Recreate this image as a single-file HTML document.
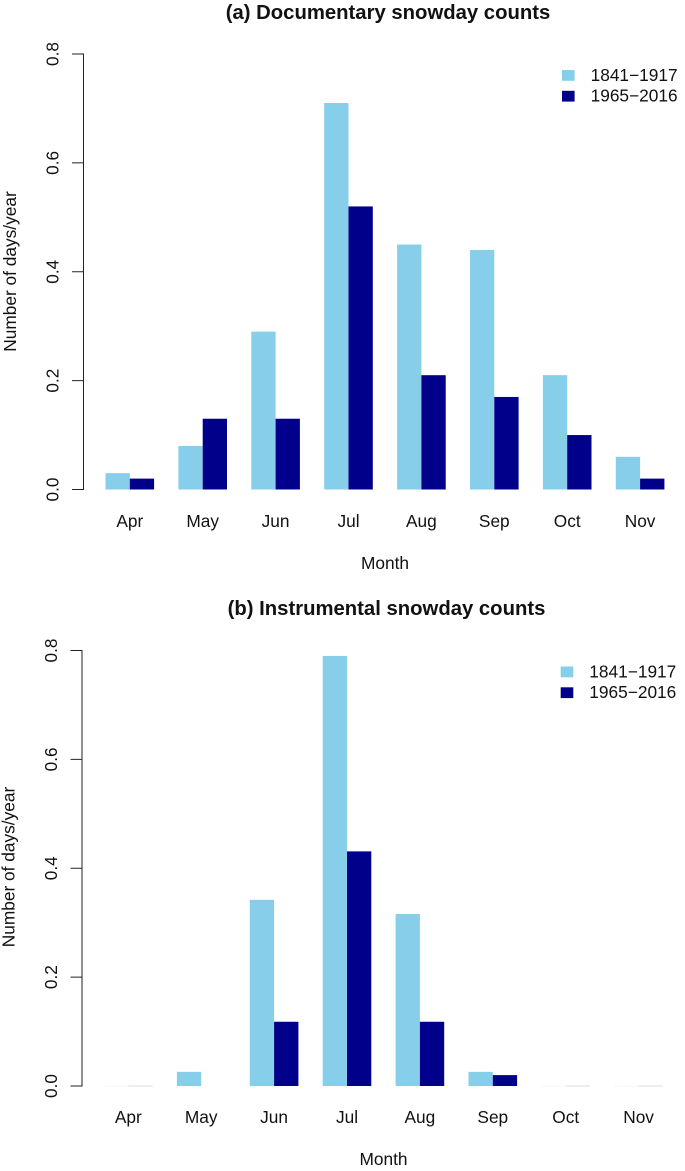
<!DOCTYPE html>
<html>
<head>
<meta charset="utf-8">
<style>
html,body{margin:0;padding:0;background:#fff;}
svg{display:block;}
text{font-family:"Liberation Sans",sans-serif;fill:#111;}
</style>
</head>
<body>
<svg id="chart" xmlns="http://www.w3.org/2000/svg" width="685" height="1171" viewBox="0 0 685 1171"></svg>
<script>
const months = ['Apr','May','Jun','Jul','Aug','Sep','Oct','Nov'];
const yTicks = [0, 0.2, 0.4, 0.6, 0.8];
const seriesNames = ['1841\u22121917','1965\u22122016'];
const docEarly = [0.03,0.08,0.29,0.71,0.45,0.44,0.21,0.06];
const docLate = [0.02,0.13,0.13,0.52,0.21,0.17,0.10,0.02];
const insEarly = [0,0.026,0.342,0.79,0.316,0.026,0,0];
const insLate = [0,0,0.118,0.431,0.118,0.02,0,0];
const colors = ['#87CEEB','#00008B'];

const svg = document.getElementById('chart');
const NS = 'http://www.w3.org/2000/svg';
function mk(tag, attrs, parent, txt){
  const e = document.createElementNS(NS, tag);
  for(const k in attrs) e.setAttribute(k, attrs[k]);
  if(txt !== undefined) e.textContent = txt;
  parent.appendChild(e);
  return e;
}
function panel(o){
  const g = mk('g', {}, svg);
  
  
  const y = v => o.y0 - v * (o.y0 - o.y8) / 0.8;
  const bw = 24.3;
  const groupX = i => o.x0 + i * 3 * bw;

  const title = mk('text', {x:o.titleX, y:o.titleY, 'text-anchor':'middle', 'font-size':'20.3', 'font-weight':'bold'}, g, o.title);
  
  

  const axis = mk('line', {x1:o.ax, x2:o.ax, y1:y(0.8), y2:y(0), stroke:'#222', 'stroke-width':'1'}, g);
  
  

  yTicks.forEach(t => {
    const tick = mk('line', {x1:o.ax - 11.5, x2:o.ax + 0.5, y1:y(t), y2:y(t), stroke:'#222', 'stroke-width':'1'}, g);
    
    
    const lx = o.ax - 25;
    const lab = mk('text', {x:lx, y:y(t), 'text-anchor':'middle', 'font-size':'17.2', transform:'rotate(-90 ' + lx + ' ' + y(t) + ')'}, g, t.toFixed(1));
    
    
  });

  const yt = mk('text', {x:o.ytX, y:o.ytY, 'text-anchor':'middle', 'font-size':'17.3', transform:'rotate(-90 ' + o.ytX + ' ' + o.ytY + ')'}, g, 'Number of days/year');
  
  

  months.forEach((m, i) => {
    [o.early, o.late].forEach((vals, s) => {
      const v = vals[i];
      const bx = groupX(i) + s * bw;
      if(v > 0){
        const r = mk('rect', {x:bx, y:y(v), width:bw, height:y(0) - y(v), fill:colors[s]}, g);
        
        
      } else if(o.early[i] === 0 && o.late[i] === 0){
        const r = mk('rect', {x:bx, y:y(0) - 0.5, width:bw, height:1, fill:colors[s], opacity:'0.14'}, g);
        
        
      }
    });
    const lab = mk('text', {x:groupX(i) + bw, y:o.monthY, 'text-anchor':'middle', 'font-size':'17.3'}, g, m);
    
    
  });

  const xt = mk('text', {x:o.xtX, y:o.xtY, 'text-anchor':'middle', 'font-size':'17.3'}, g, 'Month');
  
  

  seriesNames.forEach((n, s) => {
    const sw = mk('rect', {x:o.legX, y:o.legY + s * 20.8, width:12.6, height:10.8, fill:colors[s]}, g);
    
    
    const tx = mk('text', {x:o.legX + 28.6, y:o.legY + 11 + s * 20.7, 'font-size':'17.3'}, g, n);
    
    
  });
}
panel({key:'documentary', title:'(a) Documentary snowday counts', early:docEarly, late:docLate,
  ax:83.5, y0:489.5, y8:54, x0:105.5, titleX:388, titleY:19, monthY:527, xtX:385, xtY:569,
  ytX:16, ytY:271.5, legX:562, legY:70});
panel({key:'instrumental', title:'(b) Instrumental snowday counts', early:insEarly, late:insLate,
  ax:82, y0:1086, y8:650.5, x0:104, titleX:386.5, titleY:615, monthY:1123, xtX:383.5, xtY:1165,
  ytX:14.5, ytY:867, legX:560.7, legY:666.5});
</script>
</body>
</html>
